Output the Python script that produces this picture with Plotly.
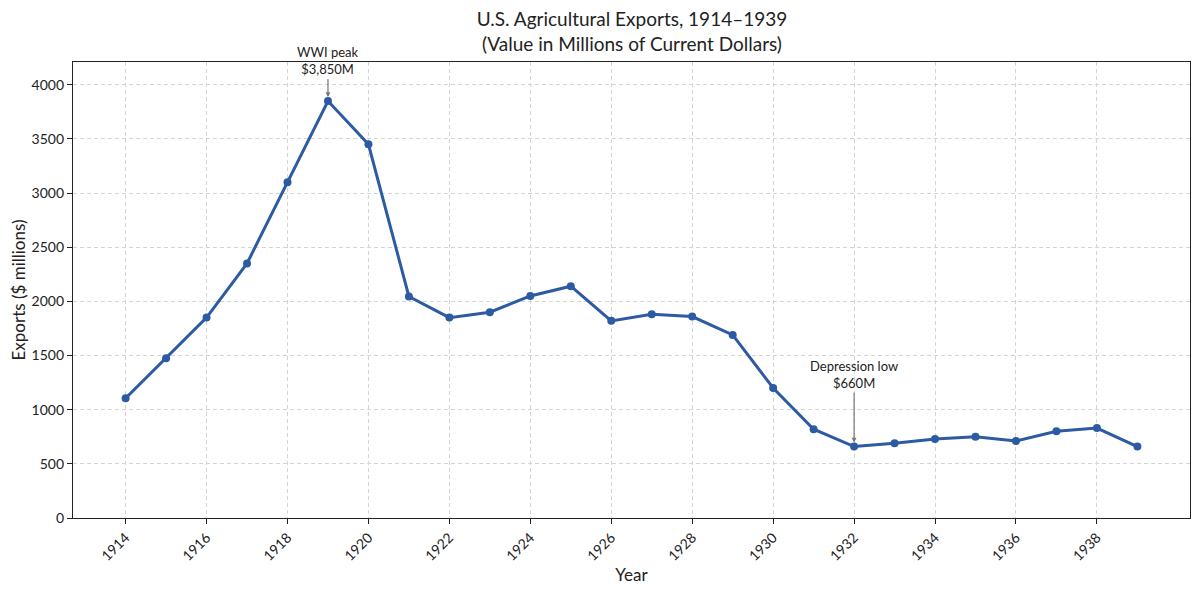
import plotly.graph_objects as go

years = list(range(1914, 1940))
exports = [1105, 1475, 1850, 2350, 3100, 3850, 3450, 2045, 1850, 1900,
           2050, 2140, 1820, 1880, 1860, 1690, 1200, 820, 660, 690,
           730, 750, 710, 800, 830, 660]
tick_years = list(range(1914, 1940, 2))
y_ticks = list(range(0, 4001, 500))

font = "Lato, 'Noto Sans', sans-serif"
blue = "#2d5ba3"

fig = go.Figure()
fig.add_trace(go.Scatter(
    x=years, y=exports, mode="lines+markers",
    line=dict(color=blue, width=3),
    marker=dict(color=blue, size=8),
    showlegend=False,
))

# annotations for peak and low
fig.add_annotation(x=1919, y=3850, text="WWI peak<br>$3,850M",
                   showarrow=True, ax=0, ay=-40, arrowhead=2, arrowsize=0.8,
                   arrowwidth=1.2, arrowcolor="#777777", standoff=4,
                   font=dict(size=13, color="#222222", family=font))
fig.add_annotation(x=1932, y=660, text="Depression low<br>$660M",
                   showarrow=True, ax=0, ay=-72, arrowhead=2, arrowsize=0.8,
                   arrowwidth=1.2, arrowcolor="#777777", standoff=4,
                   font=dict(size=13, color="#222222", family=font))

# page body has an 8px margin, so margins are shifted by that amount
fig.update_layout(
    width=1200, height=594,
    margin=dict(l=65, r=18, t=54, b=84),
    paper_bgcolor="white", plot_bgcolor="white",
    font=dict(family=font, color="#222222"),
    title=dict(text="U.S. Agricultural Exports, 1914–1939<br>(Value in Millions of Current Dollars)",
               x=0.52, xanchor="center", yref="container", y=0.969, yanchor="middle",
               font=dict(size=19), automargin=False),
)
fig.update_xaxes(
    range=[1912.7, 1940.3], tickvals=tick_years, tickangle=-45, automargin=False,
    title=dict(text="Year", font=dict(size=17), standoff=2),
    tickfont=dict(size=14), ticks="outside", ticklen=5, tickcolor="#222222",
    showline=True, linecolor="#222222", linewidth=1.2, mirror=True,
    showgrid=True, gridcolor="#d4d4d4", griddash="4px,3px", zeroline=False,
)
fig.update_yaxes(
    range=[0, 4210], tickvals=y_ticks, automargin=False,
    title=dict(text="Exports ($ millions)", font=dict(size=17), standoff=3),
    tickfont=dict(size=14), ticks="outside", ticklen=5, tickcolor="#222222",
    showline=True, linecolor="#222222", linewidth=1.2, mirror=True,
    showgrid=True, gridcolor="#d4d4d4", griddash="4px,3px", zeroline=False,
)

fig.write_html("out.html")
